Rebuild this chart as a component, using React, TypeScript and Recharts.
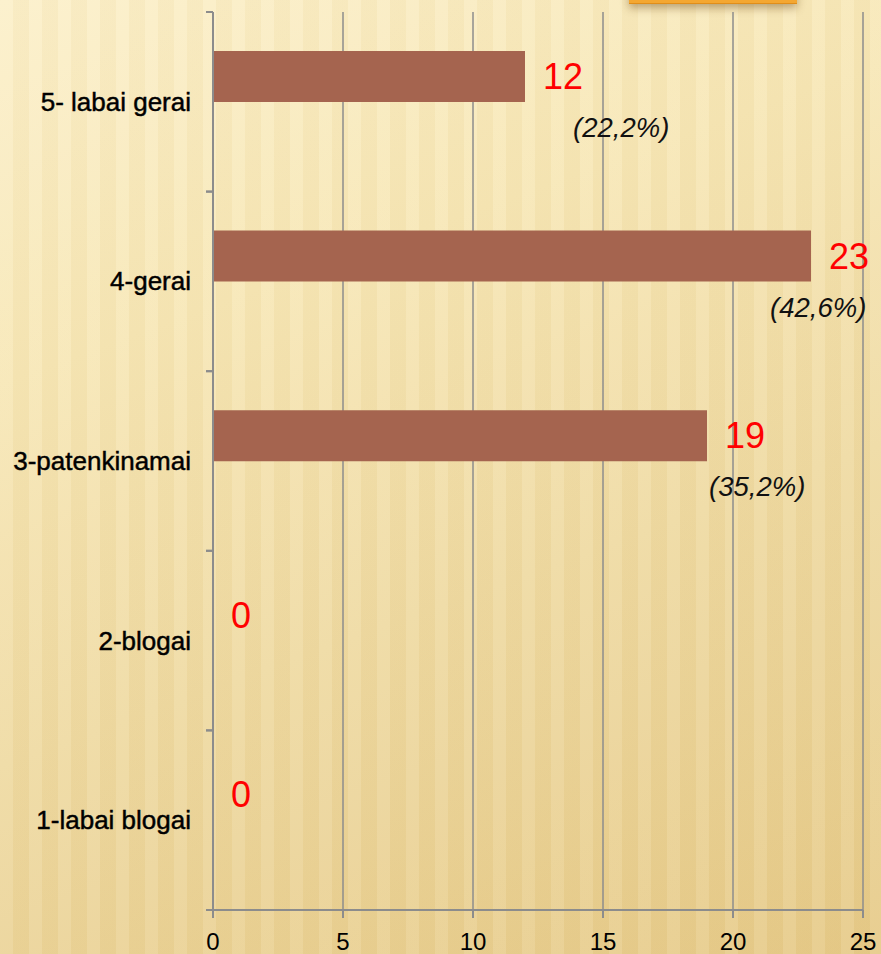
import { BarChart, Bar, XAxis, YAxis, CartesianGrid, LabelList } from 'recharts';

const CATEGORIES = ['1-labai blogai', '2-blogai', '3-patenkinamai', '4-gerai', '5- labai gerai'];
const COUNTS = [0, 0, 19, 23, 12];
const PERCENTS = [0, 0, 35.2, 42.6, 22.2];
const X_TICKS = [0, 5, 10, 15, 20, 25];

// the percent captions were placed by hand in the original, nudge them the same way
const PCT_DX = [0, 0, 2, -41, 48];

const data = CATEGORIES.map((category, i) => ({
    category,
    count: COUNTS[i],
    // invisible twin bar under each count bar, it carries the percent caption
    twin: COUNTS[i],
}));

const WIDTH = 881;
const HEIGHT = 954;
const AXIS_X = 213;
const TOP = 12;
const BOTTOM = 910;
const BAND = (BOTTOM - TOP) / CATEGORIES.length;
const GRAY = '#8c8c8c';
const FONT = '"Liberation Sans", Arial, sans-serif';

function CategoryTick(props: any) {
    const { y, payload } = props;
    return (
        <g>
            <line x1={AXIS_X - 7} x2={AXIS_X} y1={y - BAND / 2} y2={y - BAND / 2} stroke={GRAY} strokeWidth={2} />
            <line x1={AXIS_X - 7} x2={AXIS_X} y1={y + BAND / 2} y2={y + BAND / 2} stroke={GRAY} strokeWidth={2} />
            <text
                x={AXIS_X - 22}
                y={y}
                textAnchor="end"
                dominantBaseline="central"
                fontSize={26}
                fontFamily={FONT}
                fill="#000"
                stroke="#000"
                strokeWidth={0.45}
            >
                {payload.value}
            </text>
        </g>
    );
}

function ValueLabel(props: any) {
    const { x, y, height, value } = props;
    const i = CATEGORIES.indexOf(value);
    const end = x + (props.width ?? 0);
    return (
        <text
            x={(COUNTS[i] === 0 ? x : end) + 18}
            y={y + height / 2}
            dominantBaseline="central"
            fontSize={36}
            fontFamily={FONT}
            fill="#ff0000"
        >
            {COUNTS[i]}
        </text>
    );
}

function PercentLabel(props: any) {
    const { x, y, width, height, value } = props;
    const i = CATEGORIES.indexOf(value);
    const pct = PERCENTS[i];
    if (!pct) return null;
    return (
        <text
            x={x + width + PCT_DX[i]}
            y={y + height / 2}
            dominantBaseline="central"
            fontSize={27.5}
            fontStyle="italic"
            fontFamily={FONT}
            fill="#111"
        >
            {'(' + pct.toFixed(1).replace('.', ',') + '%)'}
        </text>
    );
}

export default function App() {
    return (
        <div
            style={{
                position: 'absolute',
                left: 0,
                top: 0,
                width: WIDTH,
                height: HEIGHT,
                overflow: 'hidden',
                background:
                    'repeating-linear-gradient(90deg, rgba(255,255,255,0.08) 0px, rgba(255,255,255,0.08) 13px, rgba(170,130,50,0.04) 13px, rgba(170,130,50,0.04) 29px), ' +
                    'linear-gradient(160deg, #fcf0ca 0%, #f7e7b6 30%, #efdaa2 60%, #e6ca88 100%)',
            }}
        >
            <div
                style={{
                    position: 'absolute',
                    left: 629,
                    top: -12,
                    width: 168,
                    height: 15,
                    background: '#f4a731',
                    borderBottom: '1px solid #e08e1a',
                    boxShadow: '0 4px 8px rgba(110,70,20,0.45)',
                }}
            />
            <BarChart
                width={WIDTH}
                height={HEIGHT}
                data={data}
                layout="vertical"
                margin={{ top: TOP, right: WIDTH - 863, bottom: 0, left: 0 }}
                barSize={51}
                barGap={0}
            >
                <CartesianGrid horizontal={false} stroke={GRAY} strokeWidth={1.5} />
                <XAxis
                    type="number"
                    domain={[0, 25]}
                    ticks={X_TICKS}
                    height={HEIGHT - BOTTOM}
                    axisLine={{ stroke: GRAY, strokeWidth: 2 }}
                    tickLine={{ stroke: GRAY, strokeWidth: 2 }}
                    tickSize={8}
                    tickMargin={15}
                    tick={{ fill: '#000', fontSize: 24, fontFamily: FONT }}
                />
                <YAxis
                    type="category"
                    dataKey="category"
                    reversed
                    width={AXIS_X}
                    axisLine={{ stroke: GRAY, strokeWidth: 2 }}
                    tickLine={false}
                    tick={<CategoryTick />}
                />
                <Bar dataKey="count" fill="#a5644f" minPointSize={1} isAnimationActive={false}>
                    <LabelList dataKey="category" content={<ValueLabel />} />
                </Bar>
                <Bar dataKey="twin" fill="transparent" isAnimationActive={false}>
                    <LabelList dataKey="category" content={<PercentLabel />} />
                </Bar>
            </BarChart>
        </div>
    );
}
